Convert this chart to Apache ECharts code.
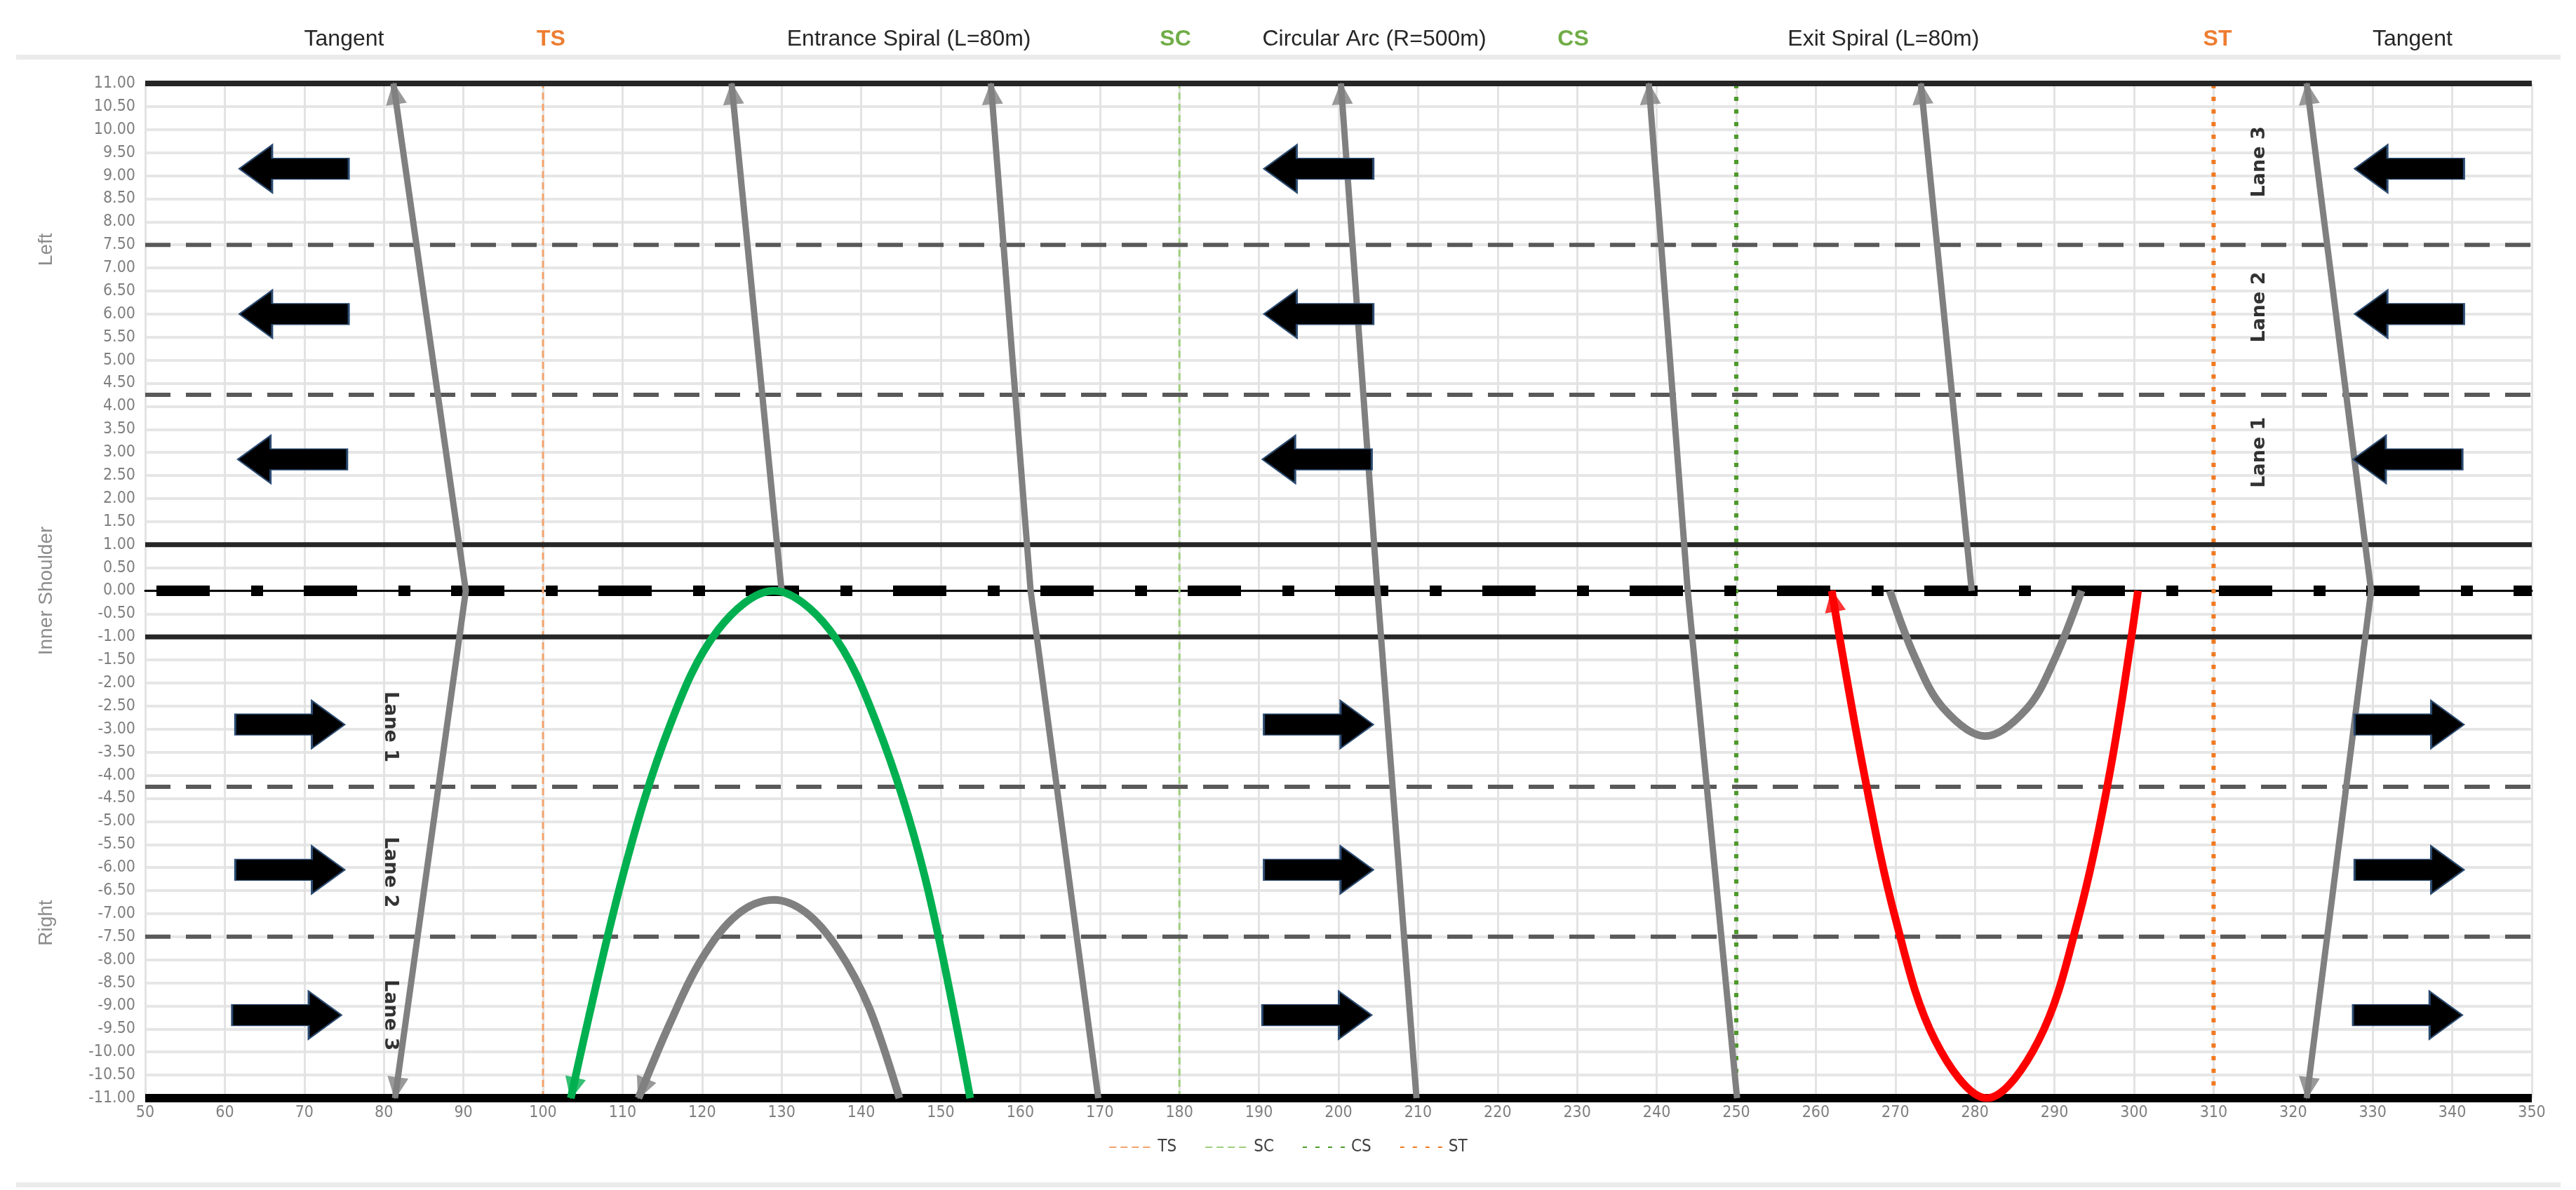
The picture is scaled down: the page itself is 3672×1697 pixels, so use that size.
<!DOCTYPE html>
<html>
<head>
<meta charset="utf-8">
<script src="https://cdn.jsdelivr.net/npm/echarts@6/dist/echarts.min.js"></script>
<style>
  html, body { margin: 0; padding: 0; background: #fff; }
  #chart { width: 3672px; height: 1697px; }
</style>
</head>
<body>
<div id="chart"></div>
<script>
// road layout
const edgeLines = [11, 1, -1, -11];
const edgeWidths = [8, 7, 7, 12];
const laneLines = [7.5, 4.25, -4.25, -7.5];
const stationNames = ['TS', 'SC', 'CS', 'ST'];
const stationX = [100, 180, 250, 310];

// header texts along the station axis
const headerTexts = ['Tangent', 'TS', 'Entrance Spiral (L=80m)', 'SC', 'Circular Arc (R=500m)', 'CS', 'Exit Spiral (L=80m)', 'ST', 'Tangent'];
const headerX = [75, 101, 146, 179.5, 204.5, 229.5, 268.5, 310.5, 335];
const headerColors = ['#262626', '#ed7d31', '#262626', '#70ad47', '#262626', '#70ad47', '#262626', '#ed7d31', '#262626'];

// vehicle paths [x, y]
const path1 = [[81.2, 11], [90.3, 0], [81.4, -11]];
const path2 = [[123.7, 11], [130, 0]];
const path3 = [[156.3, 11], [161.3, 0], [169.8, -11]];
const path4 = [[200.3, 11], [204.9, 0], [209.8, -11]];
const path5 = [[239, 11], [243.9, 0], [250.1, -11]];
const path6 = [[273.2, 11], [279.6, 0]];
const path7 = [[321.7, 11], [329.8, 0], [321.7, -11]];
const grayHump = [[144.8, -11], [141, -9.04], [137, -7.75], [133, -6.97], [129, -6.7], [124.5, -7.01], [120, -7.97], [116, -9.36], [112, -11]];
const grayDip = [[269.3, 0], [272.5, -1.46], [276, -2.54], [281.3, -3.15], [286.5, -2.56], [290, -1.49], [293.4, 0]];
const greenPath = [[153.7, -11], [148, -6.2], [142, -2.9], [136, -0.84], [129, 0], [122, -0.85], [116, -2.9], [110, -6.2], [103.5, -11]];
const redPath = [[300.5, 0], [297, -3.9], [293, -7.1], [288, -9.75], [281.5, -11], [275, -9.75], [270, -7.1], [266, -3.9], [262, 0]];

// block arrows showing traffic direction
const leftArrows = [[68.7, 9.15], [68.7, 6.0], [68.5, 2.85], [197.5, 9.15], [197.5, 6.0], [197.3, 2.85], [334.6, 9.15], [334.6, 6.0], [334.4, 2.85]];
const rightArrows = [[68.2, -2.9], [68.2, -6.05], [67.8, -9.2], [197.5, -2.9], [197.5, -6.05], [197.3, -9.2], [334.6, -2.9], [334.6, -6.05], [334.4, -9.2]];

// lane labels
const laneLabelsTop = [['Lane 3', 315.8, 9.3], ['Lane 2', 315.8, 6.15], ['Lane 1', 315.8, 3.0]];
const laneLabelsBottom = [['Lane 1', 80.8, -2.95], ['Lane 2', 80.8, -6.1], ['Lane 3', 80.8, -9.2]];

const narrow = "'Liberation Sans Narrow', 'DejaVu Sans Condensed', sans-serif";
const GRAY = '#808080';

let myChart = echarts.init(document.getElementById('chart'));

let series = [];
let arrowTips = [];

// lane edges and lane dividers
edgeLines.forEach(function (y, i) {
  series.push({
    type: 'line', silent: true, symbol: 'none', z: 3,
    data: [[50, y], [350, y]],
    lineStyle: { color: i === 3 ? '#000' : '#262626', width: edgeWidths[i] }
  });
});
laneLines.forEach(function (y) {
  series.push({
    type: 'line', silent: true, symbol: 'none', z: 3,
    data: [[50, y], [350, y]],
    lineStyle: { color: '#595959', width: 6, type: [36, 22] }
  });
});
// centre line dashes
series.push({
  type: 'line', silent: true, symbol: 'none', z: 4,
  data: [[50, 0], [350, 0]],
  lineStyle: { color: '#000', width: 15, type: [76, 59, 17, 58], dashOffset: 194, cap: 'butt' }
});

// station lines (legend)
const stationStyles = [
  { color: '#f4a46c', width: 3, type: [10, 6] },
  { color: '#9fcf7f', width: 3, type: [10, 6] },
  { color: '#4e9a2c', width: 6, type: [6, 12] },
  { color: '#f07a22', width: 6, type: [6, 12] }
];
stationNames.forEach(function (name, i) {
  series.push({
    name: name, type: 'line', symbol: 'none', z: 2,
    data: [[stationX[i], -11], [stationX[i], 11]],
    lineStyle: stationStyles[i],
    itemStyle: { color: stationStyles[i].color }
  });
});

// vehicle paths
function addPath(pts, color, width, smooth, arrowStart, arrowEnd) {
  series.push({
    type: 'line', silent: true, symbol: 'none', smooth: smooth, z: 6,
    data: pts,
    lineStyle: { color: color, width: width }
  });
  if (arrowEnd) arrowTips.push([pts[pts.length - 2], pts[pts.length - 1], color]);
  if (arrowStart) arrowTips.push([pts[1], pts[0], color]);
}
addPath(path1, GRAY, 9, false, true, true);
addPath(path2, GRAY, 9, false, true, false);
addPath(path3, GRAY, 9, false, true, false);
addPath(path4, GRAY, 9, false, true, false);
addPath(path5, GRAY, 9, false, true, false);
addPath(path6, GRAY, 9, false, true, false);
addPath(path7, GRAY, 9, false, true, true);
addPath(grayHump, GRAY, 11, 0.35, false, true);
addPath(grayDip, GRAY, 11, 0.35, false, false);
addPath(greenPath, '#00b050', 11, 0.35, false, true);
addPath(redPath, '#ff0000', 11, 0.35, false, true);

// block arrows
const leftArrowPath = 'path://M0,50 L30,0 L30,28 L100,28 L100,72 L30,72 L30,100 Z';
const rightArrowPath = 'path://M100,50 L70,0 L70,28 L0,28 L0,72 L70,72 L70,100 Z';
[[leftArrows, leftArrowPath], [rightArrows, rightArrowPath]].forEach(function (a) {
  series.push({
    type: 'scatter', silent: true, z: 8,
    symbol: a[1], symbolSize: [156, 68], symbolKeepAspect: false,
    itemStyle: { color: '#000', borderColor: '#2a4a70', borderWidth: 2, opacity: 1 },
    data: a[0]
  });
});

// lane labels
[[laneLabelsTop, 90], [laneLabelsBottom, -90]].forEach(function (l) {
  series.push({
    type: 'scatter', silent: true, z: 9, symbolSize: 1,
    itemStyle: { color: 'transparent' },
    label: {
      show: true, position: 'inside', rotate: l[1],
      formatter: function (p) { return p.name; },
      fontFamily: 'DejaVu Sans', fontWeight: 'bold', fontSize: 27, color: '#000'
    },
    data: l[0].map(function (d) { return { name: d[0], value: [d[1], d[2]] }; })
  });
});

let option = {
  animation: false,
  backgroundColor: '#fff',
  grid: { left: 207, right: 63, top: 119, bottom: 131, containLabel: false },
  legend: {
    data: stationNames,
    bottom: 44, left: 'center',
    itemWidth: 64, itemHeight: 8, itemGap: 40,
    itemStyle: { opacity: 0 },
    textStyle: { fontFamily: narrow, fontSize: 24, color: '#404040' }
  },
  xAxis: {
    type: 'value', min: 50, max: 350, interval: 10,
    axisLine: { onZero: true, lineStyle: { color: '#000', width: 3 } },
    axisTick: { show: false },
    axisLabel: { fontFamily: narrow, fontSize: 23, color: '#7f7f7f', margin: 10 },
    splitLine: { show: true, lineStyle: { color: '#e3e3e3', width: 3 } }
  },
  yAxis: {
    type: 'value', min: -11, max: 11, interval: 0.5,
    axisLine: { show: false },
    axisTick: { show: false },
    axisLabel: {
      fontFamily: narrow, fontSize: 23, color: '#7f7f7f', margin: 14,
      formatter: function (v) { return v.toFixed(2); }
    },
    splitLine: { show: true, lineStyle: { color: '#e6e6e6', width: 4 } }
  },
  series: series
};

myChart.setOption(option);

// arrow heads at path ends, rotated along the last segment
let tipSeries = arrowTips.map(function (t) {
  let a = myChart.convertToPixel({ gridIndex: 0 }, t[0]);
  let b = myChart.convertToPixel({ gridIndex: 0 }, t[1]);
  let dx = b[0] - a[0], dy = b[1] - a[1];
  let len = Math.sqrt(dx * dx + dy * dy);
  let back = 14;
  let c = myChart.convertFromPixel({ gridIndex: 0 }, [b[0] - dx / len * back, b[1] - dy / len * back]);
  let rot = Math.atan2(-dx, -dy) * 180 / Math.PI;
  return {
    type: 'scatter', silent: true, z: 7,
    symbol: 'triangle', symbolSize: [30, 32], symbolRotate: rot,
    itemStyle: { color: t[2] },
    data: [c]
  };
});

// headers, side names and frame lines
let graphics = [
  { type: 'rect', shape: { x: 23, y: 78, width: 3627, height: 7 }, style: { fill: '#ebebeb' } },
  { type: 'rect', shape: { x: 23, y: 1686, width: 3627, height: 7 }, style: { fill: '#ebebeb' } }
];
headerTexts.forEach(function (t, i) {
  let px = myChart.convertToPixel({ gridIndex: 0 }, [headerX[i], 0])[0];
  graphics.push({
    type: 'text', x: px, y: 56,
    style: {
      text: t, fill: headerColors[i], align: 'center', verticalAlign: 'middle',
      font: (t.length <= 2 ? 'bold ' : '') + '32px "Liberation Sans", sans-serif'
    }
  });
});
[['Left', 7.4], ['Inner Shoulder', 0], ['Right', -7.2]].forEach(function (n) {
  let py = myChart.convertToPixel({ gridIndex: 0 }, [50, n[1]])[1];
  graphics.push({
    type: 'text', x: 66, y: py, rotation: Math.PI / 2,
    style: { text: n[0], fill: '#8c8c8c', align: 'center', verticalAlign: 'middle', font: '28px "Liberation Sans", sans-serif' }
  });
});
myChart.setOption({ series: series.concat(tipSeries), graphic: graphics });
</script>
</body>
</html>
